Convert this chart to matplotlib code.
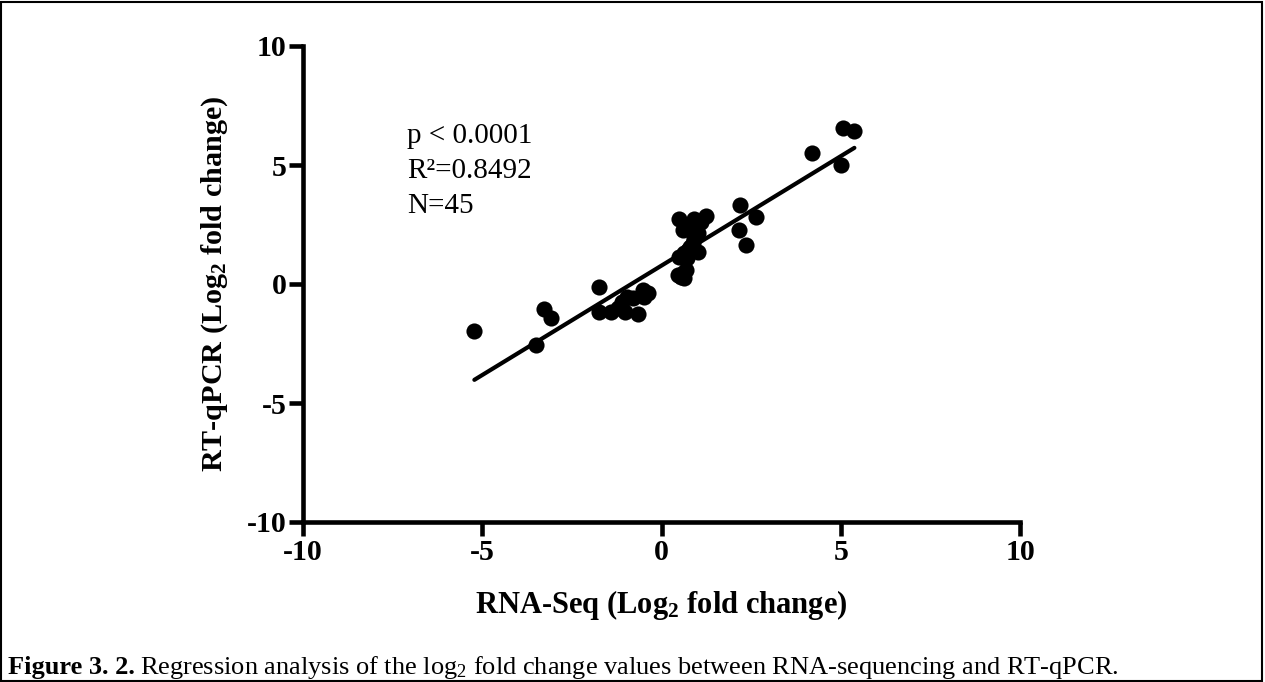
import numpy as np
import matplotlib
matplotlib.use("Agg")
import matplotlib.pyplot as plt
from matplotlib.patches import Rectangle

plt.rcParams['font.family'] = ['Liberation Serif', 'DejaVu Serif']
plt.rcParams['mathtext.fontset'] = 'custom'
plt.rcParams['mathtext.rm'] = 'Liberation Serif'
plt.rcParams['mathtext.bf'] = 'Liberation Serif:bold'
plt.rcParams['mathtext.it'] = 'Liberation Serif:italic'
plt.rcParams['axes.unicode_minus'] = False

# Data: RNA-Seq log2 FC (x) vs RT-qPCR log2 FC (y)
rnaseq = [-5.22, -3.50, -3.28, -3.08, -1.75, -1.73, -1.40, -1.03, -0.66, -0.80,
          -0.52, -0.38, 0.45, 0.64, 0.67, 0.50, 0.73, 1.01, 0.92, 0.59,
          0.48, 0.92, 1.23, 2.20, 2.64, 2.15, 2.36, 5.06, 5.38, 4.20,
          5.01, -1.09, 0.78, 1.01, 0.87, 0.64, -0.95, -1.20, -0.50, 0.55,
          0.60, 0.70, 0.80, 0.70, 1.10]
rtqpcr = [-1.97, -2.56, -1.05, -1.43, -0.14, -1.19, -1.16, -1.16, -1.27, -0.60,
          -0.25, -0.39, 0.38, 0.24, 0.59, 1.15, 1.43, 1.36, 1.92, 2.27,
          2.72, 2.72, 2.87, 3.32, 2.80, 2.27, 1.64, 6.54, 6.44, 5.49,
          5.00, -0.76, 2.41, 2.13, 1.71, 1.29, -0.55, -1.00, -0.55, 0.30,
          0.45, 1.10, 1.55, 2.50, 2.60]
annot_lines = ["p < 0.0001", "R\u00b2=0.8492", "N=45"]
ticks = [-10, -5, 0, 5, 10]

x = np.array(rnaseq)
y = np.array(rtqpcr)

fig = plt.figure(figsize=(12.65, 6.82), dpi=100)
ax = fig.add_axes([303/1265, 1 - 522/682, (1020-303)/1265, (522-46)/682])

ax.scatter(x, y, s=135, color='black', zorder=3, linewidths=0)
slope, intercept = np.polyfit(x, y, 1)
xl = np.array([x.min(), x.max()])
ax.plot(xl, slope*xl + intercept, color='black', lw=3.0, solid_capstyle='round', zorder=2)

ax.set_xlim(-10, 10)
ax.set_ylim(-10, 10)
ax.set_xticks(ticks)
ax.set_yticks(ticks)
ax.spines['top'].set_visible(False)
ax.spines['right'].set_visible(False)
for s in ['left', 'bottom']:
    ax.spines[s].set_linewidth(3.3)
ax.tick_params(direction='out', length=10, width=3.3, labelsize=21.5, pad=2)
for lab in ax.get_xticklabels() + ax.get_yticklabels():
    lab.set_fontweight('bold')

ax.set_xlabel(r"RNA-Seq (Log$_\mathbf{2}$ fold change)", fontsize=22, fontweight='bold', labelpad=16)
ax.set_ylabel(r"RT-qPCR (Log$_\mathbf{2}$ fold change)", fontsize=21.7, fontweight='bold', labelpad=12)

for i, t in enumerate(annot_lines):
    ax.text(-7.1, 6.2 - i*1.47, t, fontsize=21, va='center', ha='left')

# caption
fig.canvas.draw()
r = fig.canvas.get_renderer()
t1 = fig.text(8/1265, 1 - 674/682, "Figure 3. 2.", fontsize=19, fontweight='bold', va='baseline')
bb = t1.get_window_extent(renderer=r)
fig.text((bb.x1 + 5)/1265, 1 - 674/682,
         r"Regression analysis of the log$_2$ fold change values between RNA-sequencing and RT-qPCR.",
         fontsize=19, va='baseline')

fig.add_artist(Rectangle((1/1265, 1/682), 1261/1265, 679/682, transform=fig.transFigure,
                         fill=False, lw=1.5, edgecolor='black'))

fig.savefig("out.png", dpi=100)
